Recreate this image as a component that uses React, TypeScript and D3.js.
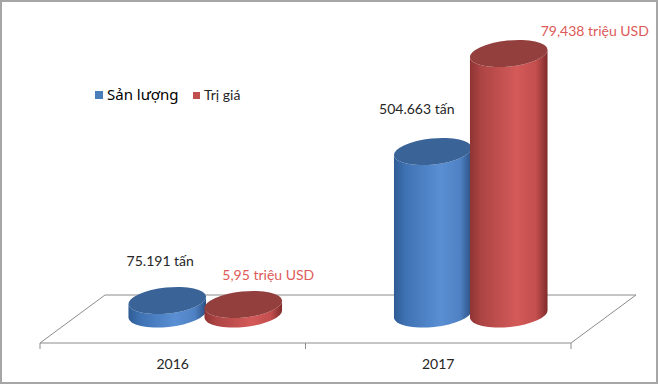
import React from "react";
import * as d3 from "d3";

// chart data
const categories = ["2016", "2017"];
const seriesNames = ["Sản lượng", "Trị giá"];
const sanLuong = [75191, 504663];
const triGia = [5.95, 79.438];
const sanLuongLabels = ["75.191 tấn", "504.663 tấn"];
const triGiaLabels = ["5,95 triệu USD", "79,438 triệu USD"];

// layout
const W = 660;
const H = 385;
const frontY = 343;
const backY = 295;
const depthShift = 65;
const baseY = 314;
const rx = 39;
const ry = 13;
const tiltDeg = -6;
// label nudges relative to cylinder top centre [series][category]
const labelNudge = [
  [[-7, -35], [-16, -38]],
  [[25, -25], [86, -18]],
];

const blueSide = ["#2f5c94", "#3e72b3", "#5a8fd4", "#4f82c4", "#2c5184"];
const redSide = ["#8f3433", "#ad4544", "#d35a59", "#c44f4e", "#7e2c2b"];

const cylinderPath = (cx: number, topY: number, botY: number) => {
  const t = (tiltDeg * Math.PI) / 180;
  const dx = rx * Math.cos(t);
  const dy = rx * Math.sin(t);
  const lt = [cx - dx, topY - dy];
  const rt = [cx + dx, topY + dy];
  const lb = [cx - dx, botY - dy];
  const rb = [cx + dx, botY + dy];
  return `M${lt[0]},${lt[1]} L${lb[0]},${lb[1]} A${rx},${ry} ${tiltDeg} 0 0 ${rb[0]},${rb[1]} L${rt[0]},${rt[1]} A${rx},${ry} ${tiltDeg} 0 1 ${lt[0]},${lt[1]} Z`;
};

const App = () => {
  const x = d3.scaleBand<string>().domain(categories).range([40, 571]);
  const inner = d3.scaleBand<string>().domain(seriesNames).range([0, 152]);
  const hBlue = d3.scaleLinear().domain([36280, 504663]).range([0, 162.5]);
  const hRed = d3.scaleLinear().domain([3.17, 79.438]).range([0, 260.5]);

  const series = [
    { name: seriesNames[0], values: sanLuong, labels: sanLuongLabels, h: hBlue, side: "blueSide", top: "#3a6398", legend: "#4a7ebb", text: "#262626" },
    { name: seriesNames[1], values: triGia, labels: triGiaLabels, h: hRed, side: "redSide", top: "#923f3d", legend: "#c0504d", text: "#dd5a58" },
  ];

  const bars = categories.flatMap((c, ci) =>
    series.map((s, si) => {
      const cx = (x(c) as number) + x.bandwidth() / 2 + depthShift / 2 + (inner(s.name) as number) + inner.bandwidth() / 2 - 76;
      const topY = baseY - s.h(s.values[ci]);
      return { c, ci, si, s, cx, topY };
    })
  );

  const floor = `M40,${frontY} L571,${frontY} L${571 + depthShift},${backY} L${40 + depthShift},${backY} Z`;
  const ticks = [40, ...categories.map((c) => (x(c) as number) + x.bandwidth())];

  return (
    <svg width={W} height={H} style={{ position: "absolute", left: 0, top: 0 }}>
      <defs>
        {[["blueSide", blueSide], ["redSide", redSide]].map(([id, cols]) => (
          <linearGradient key={id as string} id={id as string} x1="0" x2="1" y1="0" y2="0">
            {(cols as string[]).map((col, i) => (
              <stop key={i} offset={[0, 0.15, 0.6, 0.85, 1][i]} stopColor={col} />
            ))}
          </linearGradient>
        ))}
      </defs>
      <rect x={1} y={1} width={656} height={382} fill="#fff" stroke="#a6a6a6" strokeWidth={2} />
      <path d={floor} fill="#fff" stroke="#8c8c8c" strokeWidth={1} />
      {ticks.map((t, i) => (
        <line key={i} x1={t} x2={t} y1={frontY} y2={frontY + 6} stroke="#8c8c8c" />
      ))}
      {categories.map((c) => (
        <text key={c} x={(x(c) as number) + x.bandwidth() / 2} y={369} textAnchor="middle" fontFamily="Lato" fontSize={14} fill="#262626">
          {c}
        </text>
      ))}
      {bars.map((b) => (
        <g key={`${b.c}-${b.si}`}>
          <path d={cylinderPath(b.cx, b.topY, baseY)} fill={`url(#${b.s.side})`} />
          <ellipse cx={b.cx} cy={b.topY} rx={rx} ry={ry} fill={b.s.top} transform={`rotate(${tiltDeg},${b.cx},${b.topY})`} />
        </g>
      ))}
      {bars.map((b) => {
        const [dx, dy] = labelNudge[b.si][b.ci];
        return (
          <text key={`l-${b.c}-${b.si}`} x={b.cx + dx} y={b.topY + dy} textAnchor="middle" fontFamily="Lato" fontSize={14} fill={b.s.text}>
            {b.s.labels[b.ci]}
          </text>
        );
      })}
      <g>
        <rect x={95} y={91} width={8} height={8} fill={series[0].legend} />
        <text x={107} y={100} fontFamily="Noto Sans" fontSize={15} fill="#000">{series[0].name}</text>
        <rect x={193} y={92} width={7} height={7} fill={series[1].legend} />
        <text x={204} y={100} fontFamily="Lato" fontSize={14} fill="#262626">{series[1].name}</text>
      </g>
    </svg>
  );
};

export default App;
